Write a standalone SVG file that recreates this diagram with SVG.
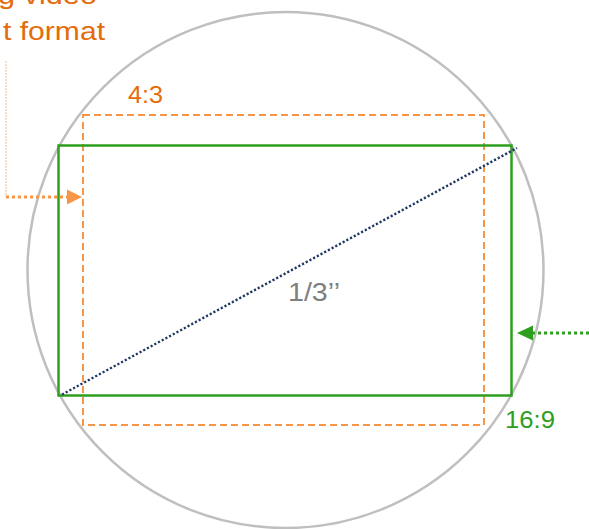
<svg xmlns="http://www.w3.org/2000/svg" width="589" height="529" viewBox="0 0 589 529">
<style>
.lbl{font-family:"Liberation Sans",Arial,sans-serif;font-size:24px}
.or{fill:#E46C0A}
.gr{fill:#2E9E1F}
</style>
<rect width="589" height="529" fill="#ffffff"/>
<g id="lens">
<circle cx="285.5" cy="270" r="258" fill="none" stroke="#BFBFBF" stroke-width="2.5"/>
</g>
<g id="format-4-3">
<rect x="83" y="115" width="401" height="310" fill="none" stroke="#F79646" stroke-width="2" stroke-dasharray="7 4"/>
<text class="lbl or" x="128" y="103" textLength="35" lengthAdjust="spacingAndGlyphs">4:3</text>
</g>
<g id="format-16-9">
<rect x="58.5" y="145.5" width="453" height="250" fill="none" stroke="#2E9E1F" stroke-width="2.5"/>
<text class="lbl gr" x="505" y="428" textLength="50" lengthAdjust="spacingAndGlyphs">16:9</text>
</g>
<g id="diagonal">
<line x1="62" y1="394.5" x2="517" y2="148" stroke="#1F3864" stroke-width="2.4" stroke-dasharray="2.2 2"/>
<text class="lbl" x="288" y="301" fill="#7F7F7F" textLength="52" lengthAdjust="spacingAndGlyphs" style="font-size:25px">1/3’’</text>
</g>
<g id="caption">
<text class="lbl or" x="97" y="4" text-anchor="end" textLength="99" lengthAdjust="spacingAndGlyphs" style="font-size:26px">g video</text>
<text class="lbl or" x="105" y="40" text-anchor="end" textLength="102" lengthAdjust="spacingAndGlyphs" style="font-size:26px">t format</text>
</g>
<g id="connectors">
<polyline points="6,61 6,197" fill="none" stroke="#FBD0AE" stroke-width="1.5" stroke-dasharray="2 1"/>
<line x1="6" y1="197" x2="68" y2="197" stroke="#F79646" stroke-width="3" stroke-dasharray="3 3"/>
<polygon points="82,197 67,189.5 67,204.5" fill="#F79646"/>
<line x1="589" y1="333" x2="532" y2="333" stroke="#2E9E1F" stroke-width="3" stroke-dasharray="3 3"/>
<polygon points="517,333 533,325.5 533,340.5" fill="#2E9E1F"/>
</g>
</svg>
